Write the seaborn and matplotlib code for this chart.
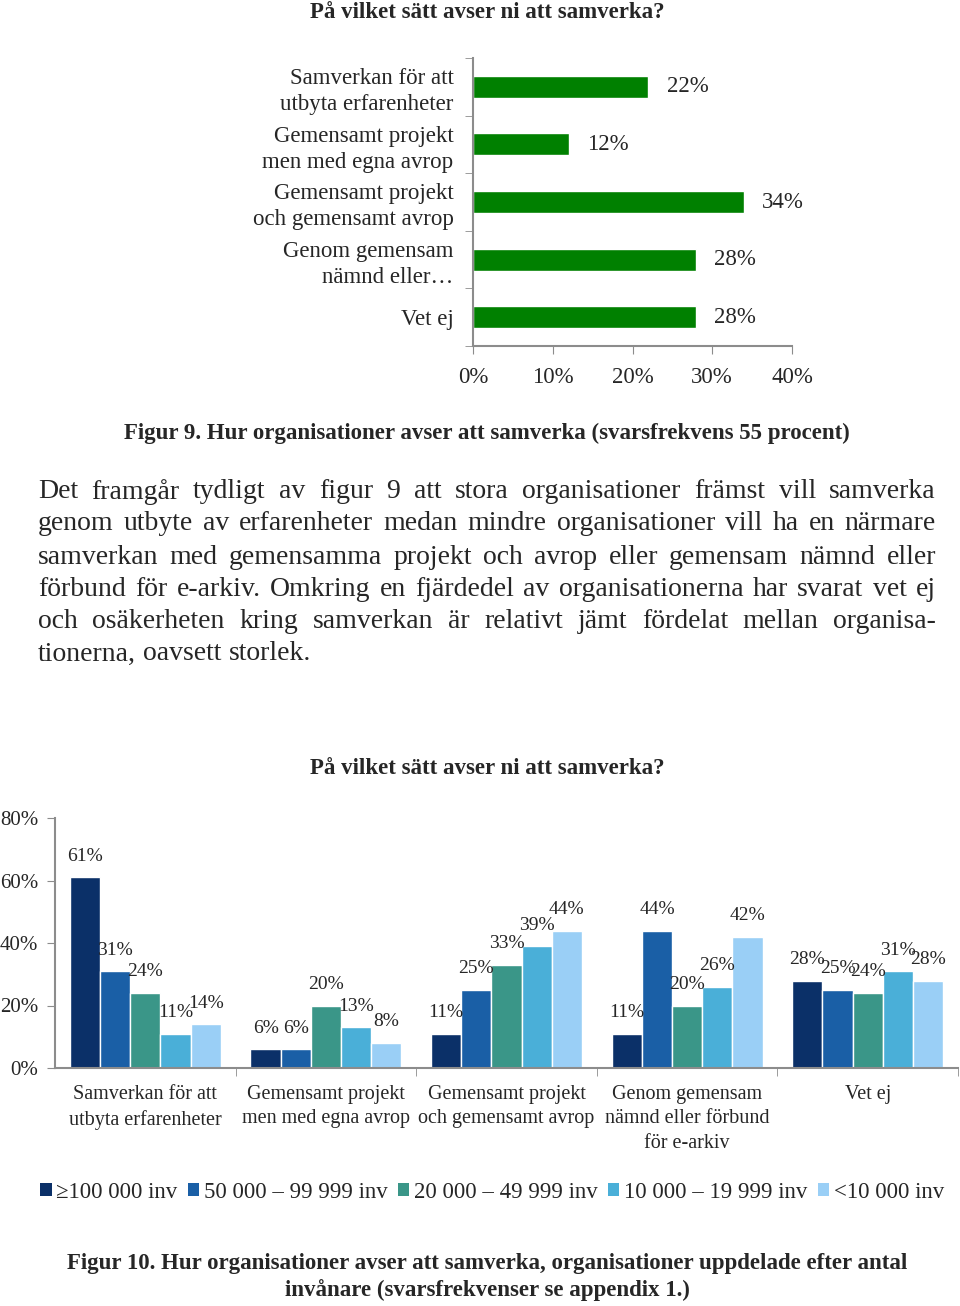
import numpy as np
import pandas as pd
import matplotlib.pyplot as plt
import seaborn as sns
from matplotlib.patches import Patch

# --- data -------------------------------------------------------------
top_categories = [
    "Samverkan för att\nutbyta erfarenheter",
    "Gemensamt projekt\nmen med egna avrop",
    "Gemensamt projekt\noch gemensamt avrop",
    "Genom gemensam\nnämnd eller…",
    "Vet ej",
]
top_values = [22, 12, 34, 28, 28]

group_categories = [
    "Samverkan för att\nutbyta erfarenheter",
    "Gemensamt projekt\nmen med egna avrop",
    "Gemensamt projekt\noch gemensamt avrop",
    "Genom gemensam\nnämnd eller förbund\nför e-arkiv",
    "Vet ej",
]
size_groups = [
    "≥100 000 inv",
    "50 000 – 99 999 inv",
    "20 000 – 49 999 inv",
    "10 000 – 19 999 inv",
    "<10 000 inv",
]
# rows = size group, columns = category
group_values = [
    [61, 6, 11, 11, 28],
    [31, 6, 25, 44, 25],
    [24, 20, 33, 20, 24],
    [11, 13, 39, 26, 31],
    [14, 8, 44, 42, 28],
]
size_colors = ["#0b3068", "#1a5fa6", "#3a9688", "#4aafd8", "#9acff6"]

title = "På vilket sätt avser ni att samverka?"
caption9 = "Figur 9. Hur organisationer avser att samverka (svarsfrekvens 55 procent)"
caption10 = ["Figur 10. Hur organisationer avser att samverka, organisationer uppdelade efter antal",
             "invånare (svarsfrekvenser se appendix 1.)"]
body_lines = [
    "Det framgår tydligt av figur 9 att stora organisationer främst vill samverka",
    "genom utbyte av erfarenheter medan mindre organisationer vill ha en närmare",
    "samverkan med gemensamma projekt och avrop eller gemensam nämnd eller",
    "förbund för e-arkiv. Omkring en fjärdedel av organisationerna har svarat vet ej",
    "och osäkerheten kring samverkan är relativt jämt fördelat mellan organisa-",
    "tionerna, oavsett storlek.",
]

# --- setup ------------------------------------------------------------
sns.set_style("white")
plt.rcParams["font.family"] = ["Liberation Serif", "DejaVu Serif"]
W, H = 960, 1306
fig = plt.figure(figsize=(W / 100, H / 100), dpi=100)
axis_grey = "#8c8c8c"
bold_size = 16.5


def fx(px):
    return px / W


def fy(py):
    return 1 - py / H


# --- top chart (figure 9) ---------------------------------------------
ax1 = fig.add_axes([fx(473), fy(346), fx(792) - fx(473), fy(58) - fy(346)])
df_top = pd.DataFrame({"cat": top_categories, "val": top_values})
sns.barplot(data=df_top, y="cat", x="val", color="#008000", width=0.38,
            orient="h", ax=ax1, saturation=1)
ax1.set_xlim(0, 40)
ax1.set_ylim(4.5, -0.5)
ax1.set_xticks(range(0, 41, 10))
ax1.set_xticklabels([f"{v}%" for v in range(0, 41, 10)], fontsize=16.5)
ax1.set_yticks(range(len(top_categories)))
ax1.set_yticklabels(top_categories, fontsize=16.5, linespacing=1.3)
ax1.set_yticks(np.arange(-0.5, 5, 1), minor=True)
ax1.tick_params(axis="y", which="major", length=0, pad=14)
ax1.tick_params(axis="y", which="minor", length=6, color=axis_grey, direction="out", left=True)
ax1.tick_params(axis="x", length=6, color=axis_grey, direction="out", bottom=True, pad=9)
ax1.set_xlabel("")
ax1.set_ylabel("")
for side in ["top", "right"]:
    ax1.spines[side].set_visible(False)
for side in ["left", "bottom"]:
    ax1.spines[side].set_color(axis_grey)
    ax1.spines[side].set_linewidth(1.5)
ax1.bar_label(ax1.containers[0], labels=[f"{v}%" for v in top_values],
              padding=13, fontsize=16.5)

fig.text(fx(487), fy(12), title, ha="center", va="center", fontsize=bold_size, fontweight="bold")
fig.text(fx(487), fy(433), caption9, ha="center", va="center", fontsize=bold_size, fontweight="bold")

# --- justified body text -------------------------------------------------
renderer = fig.canvas.get_renderer()
left_px, right_px = 38, 936
line_y = [492, 524, 557, 589, 621, 654]
body_size = 20
space_w = (fig.text(0, 0, "a a", fontsize=body_size).get_window_extent(renderer).width
           - 2 * fig.text(0, 0, "a", fontsize=body_size).get_window_extent(renderer).width)
for t in fig.texts[-2:]:
    t.remove()
for i, line in enumerate(body_lines):
    words = line.split(" ")
    texts = [fig.text(0, fy(line_y[i]), w, fontsize=body_size, va="center", ha="left")
             for w in words]
    widths = [t.get_window_extent(renderer).width for t in texts]
    if i < len(body_lines) - 1:
        gap = (right_px - left_px - sum(widths)) / (len(words) - 1)
    else:
        gap = space_w
    x = left_px
    for t, w in zip(texts, widths):
        t.set_x(fx(x))
        x += w + gap

# --- bottom chart (figure 10) -------------------------------------------
ax2 = fig.add_axes([fx(55), fy(1068), fx(958) - fx(55), fy(818) - fy(1068)])
rows = []
for si, s in enumerate(size_groups):
    for ci, c in enumerate(group_categories):
        rows.append({"cat": c, "size": s, "val": group_values[si][ci]})
df_grp = pd.DataFrame(rows)
sns.barplot(data=df_grp, x="cat", y="val", hue="size", hue_order=size_groups,
            order=group_categories, palette=size_colors, width=0.835, gap=0,
            saturation=1, ax=ax2, legend=False)
ax2.set_xlim(-0.5, 4.5)
ax2.set_ylim(0, 80)
ax2.set_yticks(range(0, 81, 20))
ax2.set_yticklabels([f"{v}%" for v in range(0, 81, 20)], fontsize=15)
ax2.tick_params(axis="y", length=6, color=axis_grey, direction="out", left=True, pad=6)
ax2.set_xticks(range(len(group_categories)))
ax2.set_xticklabels(group_categories, fontsize=14.5, linespacing=1.4, va="top")
ax2.set_xticks(np.arange(0.5, 5, 1), minor=True)
ax2.tick_params(axis="x", which="major", length=0, pad=12)
ax2.tick_params(axis="x", which="minor", length=6, color=axis_grey, direction="out", bottom=True)
ax2.set_xlabel("")
ax2.set_ylabel("")
for side in ["top", "right"]:
    ax2.spines[side].set_visible(False)
for side in ["left", "bottom"]:
    ax2.spines[side].set_color(axis_grey)
    ax2.spines[side].set_linewidth(1.5)
for si, cont in enumerate(ax2.containers):
    ax2.bar_label(cont, labels=[f"{v}%" for v in group_values[si]],
                  padding=9, fontsize=14)

fig.text(fx(487), fy(769), title, ha="center", va="center", fontsize=bold_size, fontweight="bold")

handles = [Patch(facecolor=c, edgecolor="none") for c in size_colors]
fig.legend(handles, size_groups, loc="center", bbox_to_anchor=(fx(492), fy(1192)),
           ncol=5, frameon=False, fontsize=16.5, handlelength=0.5, handleheight=0.5,
           handletextpad=0.2, columnspacing=0.45, borderaxespad=0)

fig.text(fx(487), fy(1264), caption10[0], ha="center", va="center", fontsize=bold_size, fontweight="bold")
fig.text(fx(487), fy(1290), caption10[1], ha="center", va="center", fontsize=bold_size, fontweight="bold")

fig.savefig("out.png", dpi=100)
